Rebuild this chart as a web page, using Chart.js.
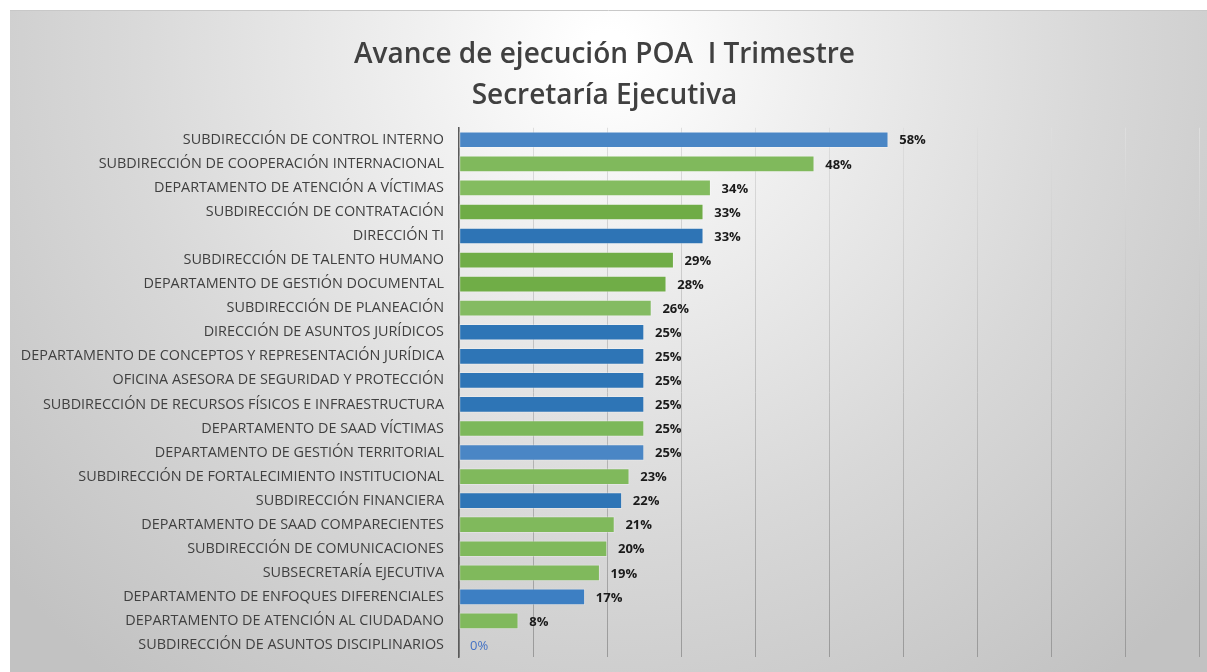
<!DOCTYPE html>
<html>
<head>
<meta charset="utf-8">
<title>Avance de ejecución POA I Trimestre</title>
<script src="https://cdn.jsdelivr.net/npm/chart.js@4.4.1/dist/chart.umd.min.js"></script>
<style>
  html, body { margin: 0; padding: 0; background: #ffffff; overflow: hidden; }
  #wrap { position: absolute; left: 10px; top: 10px; width: 1197px; height: 662px; }
</style>
</head>
<body>
<div id="wrap"><canvas id="poaChart"></canvas></div>
<script>
// --- data ---
const titleLines = ["Avance de ejecución POA  I Trimestre", "Secretaría Ejecutiva"];

const dependencias = [
  "SUBDIRECCIÓN DE CONTROL INTERNO",
  "SUBDIRECCIÓN DE COOPERACIÓN INTERNACIONAL",
  "DEPARTAMENTO DE ATENCIÓN A VÍCTIMAS",
  "SUBDIRECCIÓN DE CONTRATACIÓN",
  "DIRECCIÓN TI",
  "SUBDIRECCIÓN DE TALENTO HUMANO",
  "DEPARTAMENTO DE GESTIÓN DOCUMENTAL",
  "SUBDIRECCIÓN DE PLANEACIÓN",
  "DIRECCIÓN DE ASUNTOS JURÍDICOS",
  "DEPARTAMENTO DE CONCEPTOS Y REPRESENTACIÓN JURÍDICA",
  "OFICINA ASESORA DE SEGURIDAD Y PROTECCIÓN",
  "SUBDIRECCIÓN DE RECURSOS FÍSICOS E INFRAESTRUCTURA",
  "DEPARTAMENTO DE SAAD VÍCTIMAS",
  "DEPARTAMENTO DE GESTIÓN TERRITORIAL",
  "SUBDIRECCIÓN DE FORTALECIMIENTO INSTITUCIONAL",
  "SUBDIRECCIÓN FINANCIERA",
  "DEPARTAMENTO DE SAAD COMPARECIENTES",
  "SUBDIRECCIÓN DE COMUNICACIONES",
  "SUBSECRETARÍA EJECUTIVA",
  "DEPARTAMENTO DE ENFOQUES DIFERENCIALES",
  "DEPARTAMENTO DE ATENCIÓN AL CIUDADANO",
  "SUBDIRECCIÓN DE ASUNTOS DISCIPLINARIOS"
];

const avance = [58, 48, 34, 33, 33, 29, 28, 26, 25, 25, 25, 25, 25, 25, 23, 22, 21, 20, 19, 17, 8, 0];

// colour family of each bar (as in the original)
const barColors = [
  "#4a86c5", "#80b95c", "#84bc60", "#6fac46", "#2e74b5", "#70ad47", "#70ad47", "#84bb62",
  "#2e75b6", "#2e75b6", "#2e75b6", "#2e75b6", "#7cb85a", "#4a86c5", "#80b95c", "#2e75b6",
  "#80b95c", "#80b95c", "#80b95c", "#3d7fc3", "#80b95c", "#4472c4"
];

const xTicks = [0, 10, 20, 30, 40, 50, 60, 70, 80, 90, 100];

// background of the chart box
const backgroundPlugin = {
  id: "bgGradient",
  beforeDraw(chart) {
    const { ctx, width, height } = chart;
    ctx.save();
    const g = ctx.createRadialGradient(width * 0.5, 40, 20, width * 0.5, 40, 800);
    g.addColorStop(0, "#ffffff");
    g.addColorStop(0.22, "#f0f0f0");
    g.addColorStop(0.6, "#d8d8d8");
    g.addColorStop(1, "#c2c2c2");
    ctx.fillStyle = g;
    ctx.fillRect(0, 0, width, height);
    ctx.strokeStyle = "#c8c8c8";
    ctx.lineWidth = 1;
    ctx.beginPath();
    ctx.moveTo(0, 0.5);
    ctx.lineTo(width, 0.5);
    ctx.stroke();
    ctx.restore();
  }
};

// percentage labels at the end of every bar
const valueLabels = {
  id: "valueLabels",
  afterDatasetsDraw(chart) {
    const { ctx } = chart;
    const meta = chart.getDatasetMeta(0);
    ctx.save();
    ctx.textBaseline = "middle";
    ctx.textAlign = "left";
    meta.data.forEach((bar, i) => {
      const v = avance[i];
      if (v === 0) {
        ctx.font = "13px 'Open Sans', sans-serif";
        ctx.fillStyle = "#4472c4";
      } else {
        ctx.font = "bold 13px 'Open Sans', sans-serif";
        ctx.fillStyle = "#1a1a1a";
      }
      ctx.fillText(v + "%", bar.x + 11, bar.y + 1);
    });
    ctx.restore();
  }
};

const ctx = document.getElementById("poaChart").getContext("2d");

new Chart(ctx, {
  type: "bar",
  data: {
    labels: dependencias,
    datasets: [
      {
        data: avance,
        backgroundColor: barColors,
        borderColor: "rgba(255,255,255,0.25)",
        borderWidth: 1,
        borderSkipped: false,
        barThickness: 16
      }
    ]
  },
  options: {
    indexAxis: "y",
    responsive: true,
    maintainAspectRatio: false,
    animation: false,
    layout: { padding: { left: 0, right: 8, bottom: 15 } },
    scales: {
      x: {
        min: 0,
        max: 100,
        afterBuildTicks: (scale) => {
          scale.ticks = xTicks.map((v) => ({ value: v }));
        },
        afterFit: (scale) => {
          scale.height = 0;
          scale.paddingTop = 0;
          scale.paddingBottom = 0;
        },
        ticks: { display: false },
        border: { display: false },
        grid: {
          drawTicks: false,
          lineWidth: 1,
          color: (c) => {
            const area = c.chart.chartArea;
            if (!area) return "#c8c8c8";
            const g = c.chart.ctx.createLinearGradient(0, area.top, 0, area.bottom);
            g.addColorStop(0, "#dedede");
            g.addColorStop(1, "#9a9a9a");
            return g;
          }
        }
      },
      y: {
        afterFit: (scale) => {
          scale.width = 449;
          scale.paddingTop = 0;
          scale.paddingBottom = 0;
        },
        border: { display: true, color: "#5a5a5a", width: 1.5 },
        grid: { display: false, drawTicks: false },
        ticks: {
          padding: 15,
          color: "#404040",
          font: { family: "'Open Sans', sans-serif", size: 14.4 },
          autoSkip: false
        }
      }
    },
    plugins: {
      legend: { display: false },
      tooltip: { enabled: false },
      title: {
        display: true,
        text: titleLines,
        color: "#404040",
        font: { family: "'Open Sans', sans-serif", size: 28, weight: "600", lineHeight: 1.46 },
        padding: { top: 25, bottom: 11 }
      }
    }
  },
  plugins: [backgroundPlugin, valueLabels]
});
</script>
</body>
</html>
